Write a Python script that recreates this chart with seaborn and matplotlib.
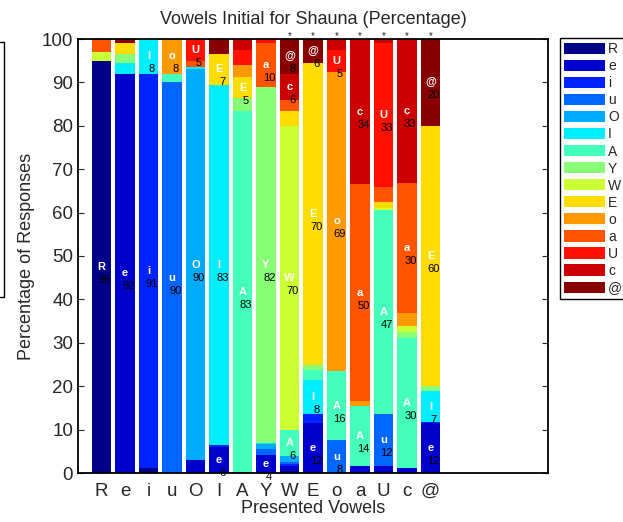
import numpy as np
import matplotlib.pyplot as plt
import seaborn as sns
from matplotlib.patches import Patch
from matplotlib.lines import Line2D

sns.set_style("ticks")
plt.rcParams['font.family'] = ['Liberation Sans', 'DejaVu Sans']

# presented vowels (bars) and response categories (stack order, bottom -> top)
presented = ["R", "e", "i", "u", "O", "I", "A", "Y", "W", "E", "o", "a", "U", "c", "@"]
responses = ["R", "e", "i", "u", "O", "I", "A", "Y", "W", "E", "o", "a", "U", "c", "@"]

# percentage of each response, one list per presented vowel (order = responses)
pct_R = [95, 0, 0, 0, 0, 0, 0, 0, 2, 0, 0, 2.7, 0, 0, 0.3]
pct_e = [0, 92, 0, 0, 0, 2.5, 0, 2, 0, 2.5, 0, 0, 0, 0, 1]
pct_i = [1.2, 0, 90.8, 0, 0, 8, 0, 0, 0, 0, 0, 0, 0, 0, 0]
pct_u = [0, 0, 0, 90, 0, 0, 2, 0, 0, 0, 8, 0, 0, 0, 0]
pct_O = [0, 3, 0, 0, 90, 0.5, 0, 0, 0, 0, 0, 1.5, 5, 0, 0]
pct_I = [0, 6, 0.5, 0, 0, 83, 0, 0, 0, 7, 0, 0, 0, 0, 3.5]
pct_A = [0, 0, 0.3, 0, 0, 0, 83, 3, 0, 5, 2.7, 0, 3.4, 2.6, 0]
pct_Y = [0, 4.1, 0, 1.5, 1, 0.4, 0, 82, 0, 0, 0, 10, 1, 0, 0]
pct_W = [0.5, 1, 0.5, 0.5, 1.5, 0, 6, 0, 70, 3.5, 0, 2.5, 0, 6, 8]
pct_E = [0, 11.5, 2, 0, 0, 8, 2.3, 1.2, 0, 69.5, 0, 0, 0, 0, 5.5]
pct_o = [0, 0, 0, 7.5, 0, 0, 16, 0, 0, 0, 69, 0, 5, 2.5, 0]
pct_a = [0, 1.5, 0, 0, 0, 0, 14, 0, 0, 0, 1, 50, 0, 33.5, 0]
pct_U = [0, 1.5, 0, 12, 0, 0, 47, 0, 0.5, 1.5, 0, 3.5, 33, 1, 0]
pct_c = [0, 1.2, 0, 0, 0, 0, 30, 1.2, 1.5, 0, 3, 30, 0, 33.1, 0]
pct_at = [0, 11.5, 0.3, 0, 0, 7, 0, 1.2, 0, 60, 0, 0, 0, 0, 20]

# bars marked with an asterisk
starred = ["W", "E", "o", "a", "U", "c", "@"]

# jet-like palette, one colour per response
colors = ["#000088", "#0000cc", "#0022ff", "#0066ff", "#00aaff", "#00eeff",
          "#44ffbb", "#88ff77", "#ccff33", "#ffdd00", "#ff9900", "#ff5500",
          "#ff1100", "#cc0000", "#880000"]

data = np.array([pct_R, pct_e, pct_i, pct_u, pct_O, pct_I, pct_A, pct_Y,
                 pct_W, pct_E, pct_o, pct_a, pct_U, pct_c, pct_at])
cum = np.cumsum(data, axis=1)

fig = plt.figure(figsize=(6.23, 5.22), dpi=100)
ax = fig.add_axes([78/623, 1 - 473/522, 470/623, 434/522])

# stacked bars: draw cumulative totals from the top category down
for k in range(len(responses) - 1, -1, -1):
    sns.barplot(x=presented, y=cum[:, k], order=presented, color=colors[k],
                saturation=1, width=0.85, errorbar=None, linewidth=0,
                edgecolor='none', ax=ax)

# segment labels
for i in range(len(presented)):
    for k in range(len(responses)):
        v = data[i, k]
        if v >= 3.8:
            mid = cum[i, k] - v / 2
            ax.text(i, mid, responses[k], ha='center', va='center', color='white',
                    fontsize=8, fontweight='bold')
            ax.text(i + 0.14, mid - 3, str(int(round(v))), ha='center', va='center',
                    color='black', fontsize=8, clip_on=False)

for s in starred:
    ax.text(presented.index(s), 100.7, '*', ha='center', va='center', fontsize=7,
            clip_on=False)

ax.set_xlim(-1, 19)
ax.set_ylim(0, 100)
ax.set_yticks(range(0, 101, 10))
ax.set_xticks(range(len(presented)))
ax.set_xticklabels(presented)
ax.tick_params(direction='in', top=True, right=True, length=4, width=0.8,
               labelsize=13.5)
ax.tick_params(axis='x', pad=7)
for sp in ax.spines.values():
    sp.set_visible(True)
    sp.set_linewidth(1.3)
    sp.set_color('black')
ax.set_xlabel("Presented Vowels", fontsize=13, labelpad=0)
ax.set_ylabel("Percentage of Responses", fontsize=13, labelpad=5)
ax.set_title("Vowels Initial for Shauna (Percentage)", fontsize=13, pad=11)

handles = [Patch(facecolor=colors[k], edgecolor='none', label=responses[k])
           for k in range(len(responses))]
leg = fig.legend(handles=handles, loc='upper left',
                 bbox_to_anchor=(560/623, 1 - 38/522), fontsize=10,
                 frameon=True, fancybox=False, edgecolor='black', framealpha=1,
                 handlelength=2.95, handleheight=0.86, handletextpad=0.2,
                 labelspacing=0.22, borderpad=0.3, borderaxespad=0)
leg.get_frame().set_linewidth(1)

# edge of a neighbouring legend box cut off at the left
fig.add_artist(Line2D([0, 3.5/623, 3.5/623, 0],
                      [1 - 42/522, 1 - 42/522, 1 - 297/522, 1 - 297/522],
                      color='black', linewidth=1))

fig.savefig("out.png", dpi=100)
